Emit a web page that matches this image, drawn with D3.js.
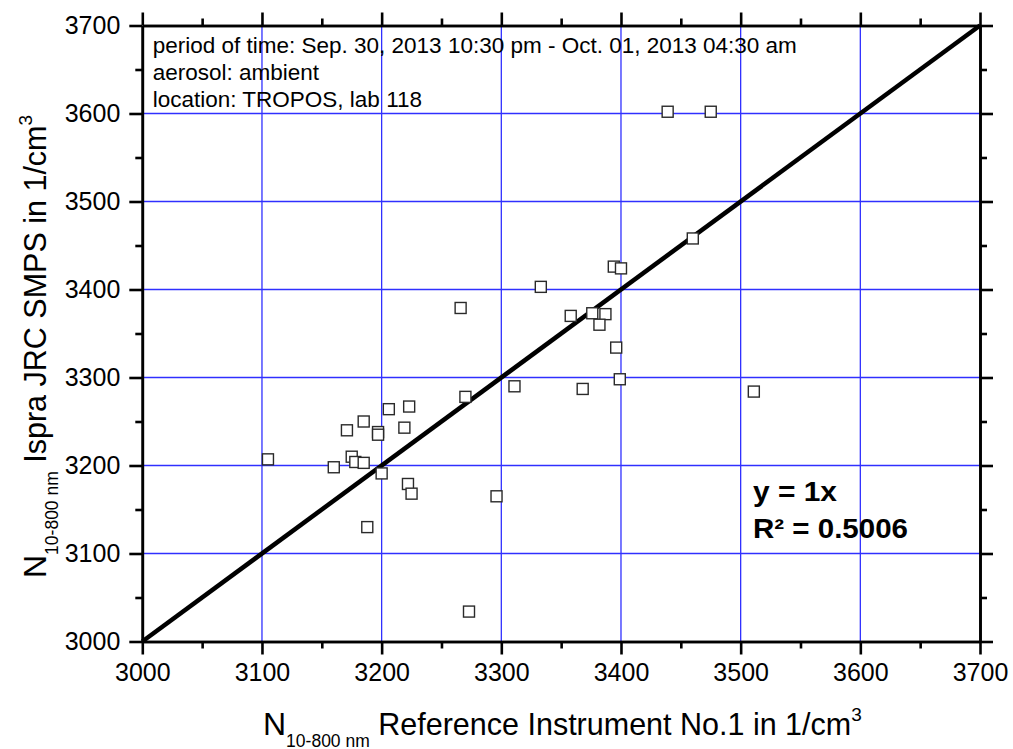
<!DOCTYPE html>
<html>
<head>
<meta charset="utf-8">
<script src="https://cdn.jsdelivr.net/npm/d3@7"></script>
<style>
  body { margin: 0; background: #fff; }
  svg { display: block; font-family: "Liberation Sans", Arial, sans-serif; }
</style>
</head>
<body>
<div id="chart"></div>
<script>
// data
const refValues = [3266, 3358, 3311, 3368, 3270, 3206, 3223, 3185, 3171, 3197, 3197, 3219,
  3105, 3175, 3178, 3185, 3160, 3200, 3222, 3225, 3296, 3188, 3273, 3439, 3475, 3460,
  3394, 3400, 3333, 3376, 3387, 3382, 3396, 3399, 3511];
const smpsValues = [3379, 3370, 3290, 3287, 3278, 3264, 3267, 3250, 3240, 3238, 3235, 3243,
  3207, 3210, 3204, 3203, 3198, 3191, 3179, 3168, 3165, 3130, 3034, 3602, 3602, 3458,
  3426, 3424, 3403, 3373, 3372, 3360, 3334, 3298, 3284];
const majorTicks = [3000, 3100, 3200, 3300, 3400, 3500, 3600, 3700];
const minorTicks = [3050, 3150, 3250, 3350, 3450, 3550, 3650];
const infoLines = ["period of time: Sep. 30, 2013 10:30 pm - Oct. 01, 2013 04:30 am",
  "aerosol: ambient", "location: TROPOS, lab 118"];
const fitLines = ["y = 1x", "R² = 0.5006"];

const W = 1013, H = 749;
const pLeft = 142.3, pRight = 980, pTop = 25.5, pBottom = 641.5;

const svg = d3.select("#chart").append("svg")
  .attr("width", W).attr("height", H);

const x = d3.scaleLinear().domain([3000, 3700]).range([pLeft, pRight]);
const y = d3.scaleLinear().domain([3000, 3700]).range([pBottom, pTop]);

// grille bleue
const grid = svg.append("g");
grid.selectAll("line.v").data(majorTicks.slice(1, -1)).join("line")
  .attr("class", "v")
  .attr("x1", d => x(d)).attr("x2", d => x(d))
  .attr("y1", pTop).attr("y2", pBottom)
  .attr("stroke", "#3030ff").attr("stroke-width", 1.3);
grid.selectAll("line.h").data(majorTicks.slice(1, -1)).join("line")
  .attr("class", "h")
  .attr("y1", d => y(d)).attr("y2", d => y(d))
  .attr("x1", pLeft).attr("x2", pRight)
  .attr("stroke", "#3030ff").attr("stroke-width", 1.3);

// droite y = x
svg.append("line")
  .attr("x1", x(3000)).attr("y1", y(3000))
  .attr("x2", x(3700)).attr("y2", y(3700))
  .attr("stroke", "#000").attr("stroke-width", 4.5);

// points
const pts = refValues.map((v, i) => [v, smpsValues[i]]);
const s = 11;
svg.append("g").selectAll("rect").data(pts).join("rect")
  .attr("x", d => x(d[0]) - s / 2).attr("y", d => y(d[1]) - s / 2)
  .attr("width", s).attr("height", s)
  .attr("fill", "#fff").attr("stroke", "#2a2a2a").attr("stroke-width", 1.4);

// axes
function styleAxis(g) {
  g.select(".domain").attr("stroke", "#000").attr("stroke-width", 2.6);
  g.selectAll(".tick line").attr("stroke", "#000").attr("stroke-width", 2.6);
  g.selectAll("text").attr("fill", "#000").style("font-size", "25px")
    .style("font-family", "'Liberation Sans', Arial, sans-serif");
}
const axes = [
  [d3.axisBottom(x), `translate(0,${pBottom})`, true],
  [d3.axisLeft(y), `translate(${pLeft},0)`, true],
  [d3.axisTop(x), `translate(0,${pTop})`, false],
  [d3.axisRight(y), `translate(${pRight},0)`, false]
];
axes.forEach(([ax, tr, labels]) => {
  const g = svg.append("g").attr("transform", tr)
    .call(ax.tickValues(majorTicks).tickSize(13).tickSizeOuter(0)
      .tickPadding(labels ? 9 : 0).tickFormat(labels ? d3.format("d") : ""));
  styleAxis(g);
  const gm = svg.append("g").attr("transform", tr)
    .call(ax.tickValues(minorTicks).tickSize(7).tickSizeOuter(0).tickFormat(""));
  styleAxis(gm);
});

// info text
svg.append("g").selectAll("text").data(infoLines).join("text")
  .attr("x", 152.7).attr("y", (d, i) => 53.3 + i * 27)
  .style("font-size", "22.5px").attr("fill", "#000")
  .text(d => d);

// fit text
const fitW = [84, 155];
svg.append("g").selectAll("text").data(fitLines).join("text")
  .attr("x", 753).attr("y", (d, i) => 500.7 + i * 37.6)
  .attr("textLength", (d, i) => fitW[i]).attr("lengthAdjust", "spacingAndGlyphs")
  .style("font-size", "28px").style("font-weight", "bold").attr("fill", "#000")
  .text(d => d);

// titres d'axes : un seul texte avec indices / exposants
function axisTitle(g, main) {
  const t = g.append("text").attr("x", 0).attr("y", 0).attr("fill", "#000");
  t.append("tspan").style("font-size", "32px").text("N");
  t.append("tspan").attr("dy", 11.5).style("font-size", "17.5px").text("10-800 nm");
  t.append("tspan").attr("dy", -11.5).style("font-size", "30.5px").text(" " + main);
  t.append("tspan").attr("dy", -14).style("font-size", "19px").text("3");
}
axisTitle(svg.append("g").attr("transform", "translate(263,735)"),
  "Reference Instrument No.1 in 1/cm");
axisTitle(svg.append("g").attr("transform", "translate(46,578) rotate(-90)"),
  "Ispra JRC SMPS in 1/cm");
</script>
</body>
</html>
